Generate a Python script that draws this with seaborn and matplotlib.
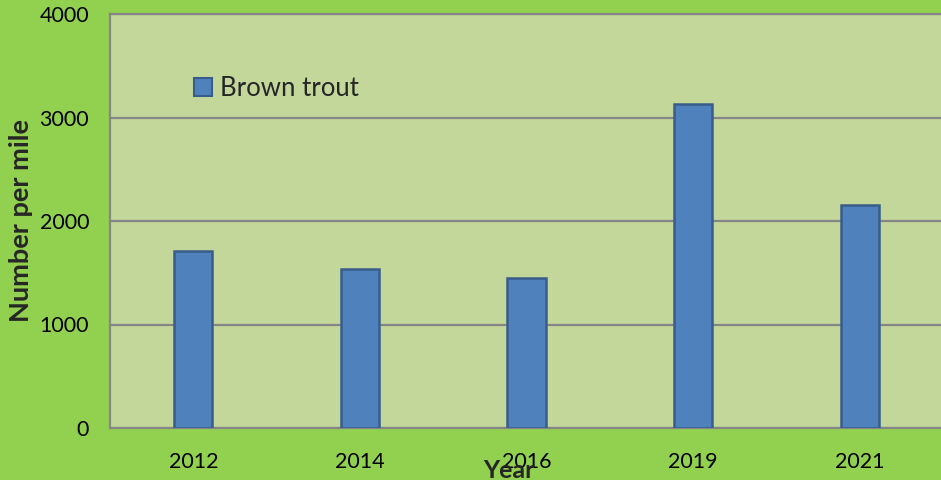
import matplotlib
matplotlib.use("Agg")
import matplotlib.pyplot as plt
from matplotlib.patches import Patch
import seaborn as sns

years = ["2012", "2014", "2016", "2019", "2021"]
brown_trout = [1710, 1535, 1450, 3130, 2155]
y_ticks = [0, 1000, 2000, 3000, 4000]

sns.set_style("white")
plt.rcParams['font.family'] = ['Lato', 'DejaVu Sans']

fig = plt.figure(figsize=(9.41, 4.8), dpi=100)
fig.patch.set_facecolor("#92D050")
ax = fig.add_axes([110 / 941, 1 - 428 / 480, 833 / 941, 414 / 480])
ax.set_facecolor("#C4D79B")

sns.barplot(x=years, y=brown_trout, color="#4F81BD", width=0.23,
            edgecolor="#385D8A", linewidth=1.8, saturation=1, ax=ax, zorder=3)

ax.set_ylim(0, 4000)
ax.set_xlim(-0.5, 4.5)
ax.set_yticks(y_ticks)
ax.set_yticklabels([str(t) for t in y_ticks])
ax.yaxis.grid(True, color="#868686", linewidth=1.6, zorder=1)
ax.set_axisbelow(True)
ax.tick_params(axis="both", length=0, labelsize=15.5, colors="black")
ax.tick_params(axis="y", pad=15)
ax.tick_params(axis="x", pad=17)

for side in ["left", "bottom", "top"]:
    ax.spines[side].set_color("#868686")
    ax.spines[side].set_linewidth(1.6)
ax.spines["right"].set_visible(False)

ax.set_xlabel("")
ax.set_ylabel("")
fig.text(21 / 941, 1 - 221 / 480, "Number per mile", fontsize=19.5, fontweight="bold",
         rotation=90, ha="center", va="center")
fig.text(509 / 941, 1 - 470 / 480, "Year", fontsize=18, fontweight="bold",
         ha="center", va="center")

handles = [Patch(facecolor="#4F81BD", edgecolor="#385D8A", linewidth=1.5, label="Brown trout")]
ax.legend(handles=handles, loc="upper left", bbox_to_anchor=(0.089, 0.875),
          frameon=False, fontsize=18.5, handlelength=0.7, handleheight=0.7,
          handletextpad=0.3, borderaxespad=0)

fig.savefig("out.png", dpi=100, facecolor=fig.get_facecolor())
